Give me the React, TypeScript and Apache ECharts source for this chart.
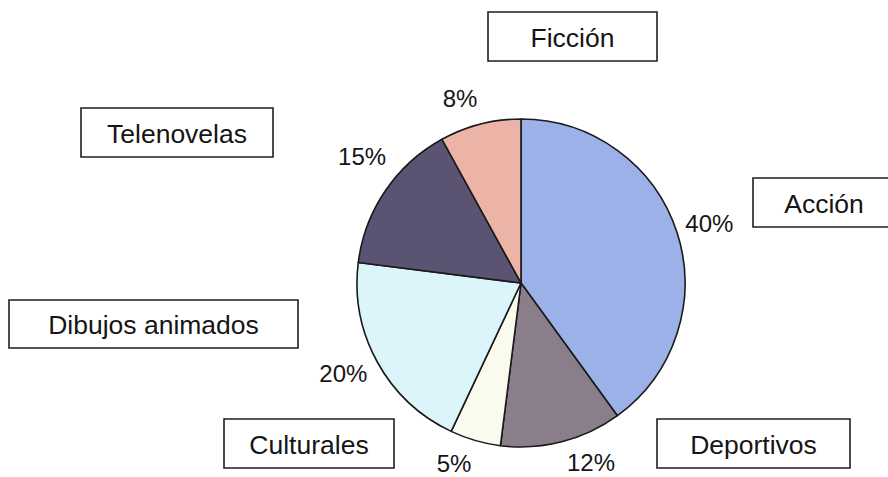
import React, { useEffect, useRef } from "react";
import * as echarts from "echarts";

const categories = ["Acción", "Deportivos", "Culturales", "Dibujos animados", "Telenovelas", "Ficción"];
const percentages = [40, 12, 5, 20, 15, 8];
const sliceColors = ["#9BB1E7", "#8B7E8B", "#FAFAEE", "#DCF5FA", "#5A5371", "#EBB4A6"];

// layout: boxed category labels [left, top, width, height]
const nameBoxes: number[][] = [
  [753, 178, 142, 49],
  [657, 419, 193, 49],
  [224, 419, 170, 49],
  [9, 300, 289, 48],
  [81, 108, 192, 49],
  [488, 12, 169, 49],
];
// layout: small nudges of the percentage labels [dx, dy]
const pctNudge: number[][] = [
  [1, 1],
  [21, -11],
  [-12, -9],
  [-5, -4],
  [4, -16],
  [-12, 6],
];

const CX = 521;
const CY = 283;
const R = 164;
const LABEL_R = 197;
const FONT = "Liberation Sans, Arial, Helvetica, sans-serif";

export default function App() {
  const ref = useRef<HTMLDivElement>(null);
  useEffect(() => {
    if (!ref.current) return;
    const chart = echarts.init(ref.current, null, { renderer: "svg" });
    const total = percentages.reduce((a, b) => a + b, 0);
    const mids: number[] = [];
    let acc = 0;
    percentages.forEach((v) => {
      const mid = 90 - ((acc + v / 2) / total) * 360;
      mids.push((mid * Math.PI) / 180);
      acc += v;
    });

    const graphics: any[] = [];
    categories.forEach((name, i) => {
      const [l, t, w, h] = nameBoxes[i];
      graphics.push({
        type: "rect",
        shape: { x: l, y: t, width: w, height: h },
        style: { fill: "#ffffff", stroke: "#1e1e1e", lineWidth: 1.6 },
        z: 10,
      });
      graphics.push({
        type: "text",
        x: l + w / 2,
        y: t + h / 2 + 1,
        style: {
          text: name,
          fontSize: 26.5,
          fontFamily: FONT,
          fill: "#151515",
          align: "center",
          verticalAlign: "middle",
        },
        z: 11,
      });
    });

    chart.setOption({
      animation: false,
      backgroundColor: "#ffffff",
      graphic: graphics,
      series: [
        {
          type: "pie",
          center: [CX, CY],
          radius: R,
          startAngle: 90,
          clockwise: true,
          data: categories.map((name, i) => ({
            name,
            value: percentages[i],
            itemStyle: { color: sliceColors[i] },
          })),
          itemStyle: { borderColor: "#1a1a1a", borderWidth: 1.6 },
          label: {
            show: true,
            position: "outside",
            formatter: "{c}%",
            fontSize: 24,
            fontFamily: FONT,
            color: "#151515",
          },
          labelLine: { show: false },
          labelLayout: (params: any) => {
            const i = params.dataIndex;
            const a = mids[i];
            return {
              x: CX + LABEL_R * Math.cos(a) + pctNudge[i][0],
              y: CY - LABEL_R * Math.sin(a) + pctNudge[i][1],
              align: "center",
              verticalAlign: "middle",
            };
          },
          emphasis: { disabled: true },
        },
      ],
    });
    return () => chart.dispose();
  }, []);
  return (
    <div
      ref={ref}
      style={{ position: "fixed", left: 0, top: 0, width: 888, height: 477, background: "#fff" }}
    />
  );
}
